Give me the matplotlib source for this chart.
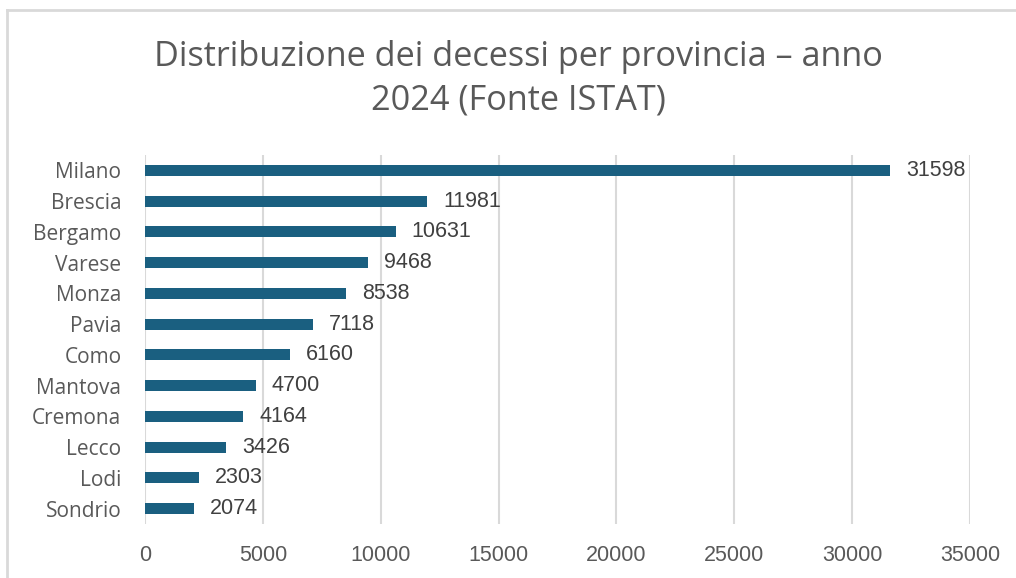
import matplotlib.pyplot as plt
from matplotlib.lines import Line2D

province = ['Milano', 'Brescia', 'Bergamo', 'Varese', 'Monza', 'Pavia',
            'Como', 'Mantova', 'Cremona', 'Lecco', 'Lodi', 'Sondrio']
decessi = [31598, 11981, 10631, 9468, 8538, 7118, 6160, 4700, 4164, 3426, 2303, 2074]
xticks = [0, 5000, 10000, 15000, 20000, 25000, 30000, 35000]

plt.rcParams['font.family'] = ['Open Sans', 'DejaVu Sans']
num_font = ['Liberation Sans', 'DejaVu Sans']

fig = plt.figure(figsize=(10.16, 5.78), dpi=100)
ax = fig.add_axes([145 / 1016, 1 - 524 / 578, 825 / 1016, 369 / 578])

ypos = list(range(len(province)))
ax.barh(ypos, decessi, height=0.36, color='#1a5f80', zorder=3)
for y, v in zip(ypos, decessi):
    ax.text(v + 680, y, str(v), va='center', ha='left', fontsize=15.5,
            color='#404040', family=num_font)

ax.set_xlim(0, 35000)
ax.set_ylim(len(province) - 0.5, -0.5)
ax.set_yticks(ypos)
ax.set_yticklabels(province, fontsize=15, color='#595959')
ax.set_xticks(xticks)
ax.set_xticklabels([str(t) for t in xticks], fontsize=15.5, color='#595959', family=num_font)
ax.tick_params(axis='both', length=0)
ax.tick_params(axis='y', pad=17)
ax.tick_params(axis='x', pad=15)
ax.grid(axis='x', color='#d9d9d9', linewidth=1.5, zorder=0)
for s in ax.spines.values():
    s.set_visible(False)

fig.text(518 / 1016, 1 - 79 / 578, 'Distribuzione dei decessi per provincia – anno\n2024 (Fonte ISTAT)',
         ha='center', va='center', fontsize=24.7, color='#595959', linespacing=1.38)

# chart frame (top and left edges visible)
fig.add_artist(Line2D([7 / 1016, 1], [1 - 10 / 578, 1 - 10 / 578], color='#d9d9d9', linewidth=2,
                      transform=fig.transFigure))
fig.add_artist(Line2D([7 / 1016, 7 / 1016], [0, 1 - 10 / 578], color='#d9d9d9', linewidth=2,
                      transform=fig.transFigure))

fig.savefig('out.png', dpi=100)
